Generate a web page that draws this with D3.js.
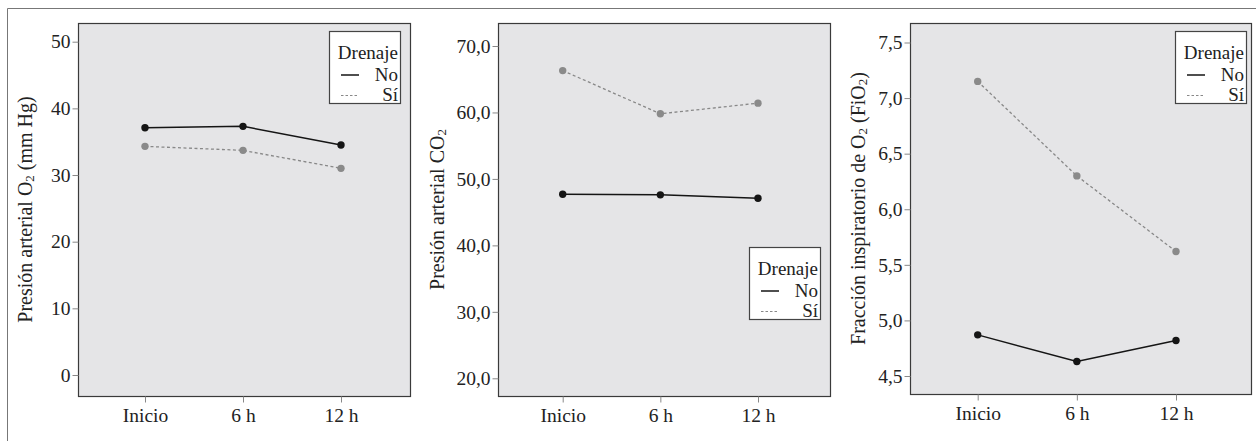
<!DOCTYPE html>
<html>
<head>
<meta charset="utf-8">
<script src="https://cdn.jsdelivr.net/npm/d3@7"></script>
<style>
  body { margin: 0; background: #fff; }
  text { font-family: "Liberation Serif", "Times New Roman", serif; fill: #222; }
</style>
</head>
<body>
<script>
// data
let times = ["Inicio", "6 h", "12 h"];
let series = ["No", "Sí"];

let pao2No = [37.1, 37.3, 34.5];
let pao2Si = [34.3, 33.7, 31.0];
let paco2No = [47.7, 47.6, 47.1];
let paco2Si = [66.3, 59.8, 61.4];
let fio2No = [4.87, 4.63, 4.82];
let fio2Si = [7.15, 6.30, 5.62];

let pao2Ticks = [0, 10, 20, 30, 40, 50];
let paco2Ticks = [20, 30, 40, 50, 60, 70];
let fio2Ticks = [4.5, 5.0, 5.5, 6.0, 6.5, 7.0, 7.5];

let w = 1256;
let h = 441;

let es = d3.formatLocale({decimal: ",", thousands: ".", grouping: [3], currency: ["", "€"]});

let svg = d3.select("body").append("svg")
  .attr("width", w)
  .attr("height", h);

// outer frame
svg.append("path")
  .attr("d", "M7.5," + h + "V8.5H" + w)
  .attr("fill", "none")
  .attr("stroke", "#777")
  .attr("stroke-width", 1);

let panels = [
  { left: 78, right: 410, top: 23, bottom: 396, xr: [145, 341],
    dom: [0, 50], yr: [375, 41.7], ticks: pao2Ticks, fmt: es.format("d"),
    no: pao2No, si: pao2Si, titleX: 25,
    title: ["Presión arterial O", "2", " (mm Hg)"],
    legend: { x: 329, y: 31 } },
  { left: 498, right: 830, top: 23, bottom: 396, xr: [562.7, 758],
    dom: [20, 70], yr: [378.3, 46], ticks: paco2Ticks, fmt: es.format(".1f"),
    no: paco2No, si: paco2Si, titleX: 437,
    title: ["Presión arterial CO", "2", ""],
    legend: { x: 749, y: 247 } },
  { left: 910, right: 1251, top: 23, bottom: 394, xr: [977.7, 1176],
    dom: [4.5, 7.5], yr: [376, 42.5], ticks: fio2Ticks, fmt: es.format(".1f"),
    no: fio2No, si: fio2Si, titleX: 858,
    title: ["Fracción inspiratorio de O", "2", " (FiO", "2", ")"],
    legend: { x: 1175, y: 31 } }
];

panels.forEach(p => {
  let g = svg.append("g");

  let xScale = d3.scalePoint()
    .domain(times)
    .range(p.xr);

  let yScale = d3.scaleLinear()
    .domain(p.dom)
    .range(p.yr);

  g.append("rect")
    .attr("x", p.left + 0.5)
    .attr("y", p.top + 0.5)
    .attr("width", p.right - p.left)
    .attr("height", p.bottom - p.top)
    .attr("fill", "#e5e5e7")
    .attr("stroke", "#3a3a3a")
    .attr("stroke-width", 1.2);

  let yAxis = d3.axisLeft(yScale)
    .tickValues(p.ticks)
    .tickFormat(p.fmt)
    .tickSize(6)
    .tickPadding(2);

  let xAxis = d3.axisBottom(xScale)
    .tickSize(6)
    .tickPadding(6);

  let ya = g.append("g")
    .attr("transform", "translate(" + (p.left + 0.5) + ",0)")
    .call(yAxis);
  let xa = g.append("g")
    .attr("transform", "translate(0," + (p.bottom + 0.5) + ")")
    .call(xAxis);

  [ya, xa].forEach(a => {
    a.select(".domain").remove();
    a.selectAll(".tick line").attr("stroke", "#888");
    a.selectAll(".tick text")
      .attr("font-family", "Liberation Serif")
      .attr("font-size", 19.5)
      .attr("fill", "#222");
  });

  // y-axis title, rotated
  let t = g.append("text")
    .attr("transform", "translate(" + (p.titleX + 7) + "," + ((p.top + p.bottom) / 2) + ") rotate(-90)")
    .attr("text-anchor", "middle")
    .attr("font-size", 20);
  p.title.forEach((s, i) => {
    let ts = t.append("tspan").text(s);
    if (s === "2") {
      ts.attr("font-size", 13).attr("dy", 2);
    } else if (i > 0) {
      ts.attr("dy", -2);
    }
  });

  let line = d3.line()
    .x((d, i) => xScale(times[i]))
    .y(d => yScale(d));

  g.append("path")
    .datum(p.si)
    .attr("d", line)
    .attr("fill", "none")
    .attr("stroke", "#888")
    .attr("stroke-width", 1.3)
    .attr("stroke-dasharray", "3,2.5");

  g.append("path")
    .datum(p.no)
    .attr("d", line)
    .attr("fill", "none")
    .attr("stroke", "#151515")
    .attr("stroke-width", 1.5);

  g.selectAll(".dot-si")
    .data(p.si)
    .enter()
    .append("circle")
    .attr("cx", (d, i) => xScale(times[i]))
    .attr("cy", d => yScale(d))
    .attr("r", 3.7)
    .attr("fill", "#8a8a8a");

  g.selectAll(".dot-no")
    .data(p.no)
    .enter()
    .append("circle")
    .attr("cx", (d, i) => xScale(times[i]))
    .attr("cy", d => yScale(d))
    .attr("r", 3.7)
    .attr("fill", "#151515");

  // legend
  let lg = g.append("g")
    .attr("transform", "translate(" + p.legend.x + "," + p.legend.y + ")");
  lg.append("rect")
    .attr("x", 0.5).attr("y", 0.5)
    .attr("width", 71).attr("height", 72)
    .attr("fill", "#fff")
    .attr("stroke", "#444")
    .attr("stroke-width", 1.2);
  lg.append("text")
    .attr("x", 69).attr("y", 28)
    .attr("text-anchor", "end")
    .attr("font-size", 19)
    .text("Drenaje");
  series.forEach((s, i) => {
    lg.append("line")
      .attr("x1", 12).attr("x2", 30)
      .attr("y1", 44 + i * 20.5).attr("y2", 44 + i * 20.5)
      .attr("stroke", i === 0 ? "#151515" : "#888")
      .attr("stroke-width", i === 0 ? 1.5 : 1.2)
      .attr("stroke-dasharray", i === 0 ? null : "2.5,2");
    lg.append("text")
      .attr("x", 69).attr("y", 50 + i * 19.5)
      .attr("text-anchor", "end")
      .attr("font-size", 19)
      .text(s);
  });
});
</script>
</body>
</html>
